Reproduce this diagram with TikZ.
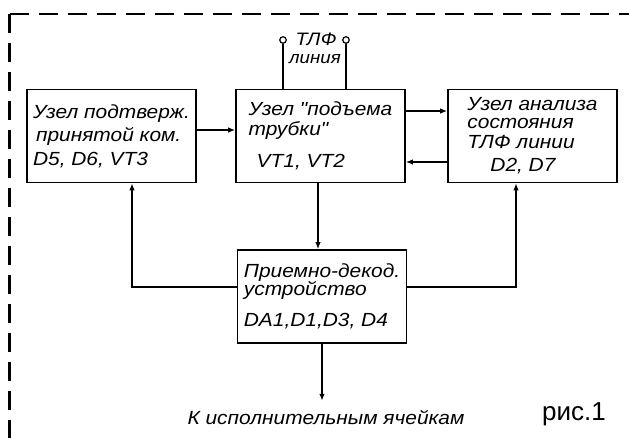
\documentclass[tikz,border=0pt]{standalone}
\usepackage{fontspec}
\setmainfont{Liberation Sans}
\newfontfamily\lblfont{Liberation Sans}[FakeStretch=1.1]
\usetikzlibrary{arrows.meta,positioning,calc}
\tikzset{
  lbl/.style={font=\lblfont\itshape\fontsize{19bp}{16bp}\selectfont},
  blk/.style={lbl,draw,line width=1.6pt,minimum width=169bp,minimum height=93bp,
              align=left,inner sep=0pt},
  conn/.style={line width=1.5pt,-{Latex[length=7bp,width=5.5bp]}},
  wire/.style={line width=1.5pt},
  term/.style={circle,draw,fill=white,line width=1.2pt,minimum size=6.5bp,inner sep=0pt},
  frame/.style={line width=2.4pt,dash pattern=on 19bp off 10bp}
}

\begin{document}
\lineskiplimit=-30pt
\begin{tikzpicture}[x=1bp,y=-1bp]
\useasboundingbox (0,0) rectangle (629,438);
\draw[frame] (9.5,14) -- (9.5,445);          % frame, left side
\draw[frame] (9.5,14) -- (640,14);           % frame, top side
\node[blk] (conf) at (111.5,136)
   {Узел подтверж.\\[7.5bp]\hspace*{3bp}принятой ком.\\[7.5bp]D5, D6, VT3};
\node[blk] (hook) at (320.5,136)
   {Узел "подъема\\[4bp]трубки"\\[16bp]\hspace*{8bp}VT1, VT2};
\node[blk] (tlf) at (532.5,136)
   {Узел анализа\\[2bp]состояния\\[4bp]ТЛФ линии\\[7bp]\hspace*{23bp}D2, D7};
\node[blk] (dec) at (322,296.5)
   {Приемно-декод.\\[2bp]устройство\\[15bp]DA1,D1,D3, D4};
% telephone line terminals
\node[term] (ta) at (283,40) {};
\node[term] (tb) at (346,40) {};
\draw[wire] (ta) -- (ta |- hook.north);
\draw[wire] (tb) -- (tb |- hook.north);
\node[lbl,font=\lblfont\itshape\fontsize{18bp}{18bp}\selectfont] (tlfname) at (316,39) {ТЛФ};
\node[lbl,font=\lblfont\itshape\fontsize{17bp}{17bp}\selectfont] (linename) at (315,59) {линия};
% signal paths
\draw[conn] ([yshift=6bp]conf.east) -- ([yshift=6bp]conf.east -| hook.west);
\draw[conn] ([yshift=25bp]hook.east) -- ([yshift=25bp]hook.east -| tlf.west);
\draw[conn] ([yshift=-26bp]tlf.west) -- ([yshift=-26bp]tlf.west -| hook.east);
\draw[conn] ([xshift=-2.5bp]hook.south) -- ([xshift=-2.5bp]hook.south |- dec.north);
\draw[conn] ([yshift=9.5bp]dec.west) -| ([xshift=20.5bp]conf.south);
\draw[conn] ([yshift=9.5bp]dec.east) -| ([xshift=-16.5bp]tlf.south);
\coordinate (out) at ($(dec.south)+(0,57)$);
\draw[conn] (dec.south) -- (out);
\node[lbl,anchor=base] (exec) at (326,424) {К исполнительным ячейкам};
\node[font=\fontsize{26bp}{30bp}\selectfont,anchor=base] (fig) at (574,420) {рис.1};
\end{tikzpicture}
\end{document}
